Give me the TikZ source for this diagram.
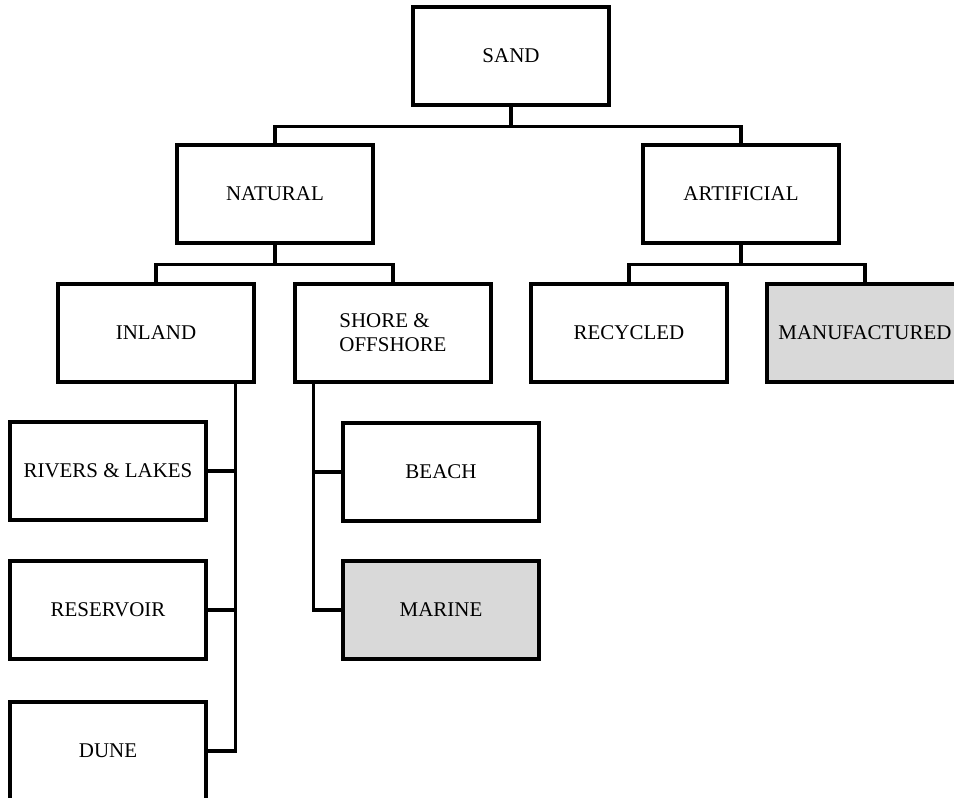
\documentclass[tikz,border=0pt]{standalone}
\usepackage{fontspec}
\setmainfont{Liberation Serif}
\usetikzlibrary{positioning,calc}
\definecolor{cShade}{HTML}{D9D9D9}
\tikzset{
  box/.style={draw, line width=2.2pt, fill=white, align=center, inner sep=0pt,
    minimum width=4.9cm, minimum height=2.45cm, font=\fontsize{14.9}{17}\selectfont},
  shaded/.style={box, fill=cShade},
  link/.style={line width=2.2pt},
}
\begin{document}
\begin{tikzpicture}[x=0.025cm, y=-0.025cm]
    \clip (0,0) rectangle (954,797);
    \useasboundingbox (0,0) rectangle (954,797);
    \node[box]    (sand)   at (511,56)  {SAND};
    \node[box]    (nat)    at (275,194) {NATURAL};
    \node[box]    (art)    at (741,194) {ARTIFICIAL};
    \node[box]    (inland) at (156,333) {INLAND};
    \node[box, align=left] (shore) at (393,333) {SHORE \&\\OFFSHORE};
    \node[box]    (recyc)  at (629,333) {RECYCLED};
    \node[shaded] (manuf)  at (865,333) {MANUFACTURED};
    \node[box]    (rivers) at (108,471) {RIVERS \& LAKES};
    \node[box]    (resv)   at (108,610) {RESERVOIR};
    \node[box]    (dune)   at (108,751) {DUNE};
    \node[box]    (beach)  at (441,472) {BEACH};
    \node[shaded] (marine) at (441,610) {MARINE};
    \coordinate (b0) at ($(sand.south)+(0,20)$);
    \coordinate (b1) at ($(nat.south)+(0,20)$);
    \coordinate (b2) at ($(art.south)+(0,20)$);
    \coordinate (ti) at ($(inland.south east)+(-20,0)$);
    \coordinate (ts) at ($(shore.south west)+(20,0)$);
    \draw[link] (sand.south) -- (b0);
    \draw[link] (nat.north) |- (b0) -| (art.north);
    \draw[link] (nat.south) -- (b1);
    \draw[link] (inland.north) |- (b1) -| (shore.north);
    \draw[link] (art.south) -- (b2);
    \draw[link] (recyc.north) |- (b2) -| (manuf.north);
    \draw[link] (ti) |- (dune.east);
    \draw[link] (rivers.east) -- (rivers.east -| ti);
    \draw[link] (resv.east) -- (resv.east -| ti);
    \draw[link] (ts) |- (marine.west);
    \draw[link] (beach.west) -- (beach.west -| ts);
  \end{tikzpicture}
\end{document}
